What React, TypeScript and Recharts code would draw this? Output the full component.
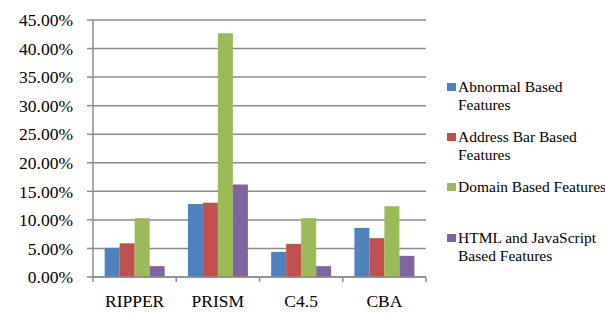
import React from 'react';
import { BarChart, Bar, XAxis, YAxis, CartesianGrid } from 'recharts';

const categories = ['RIPPER', 'PRISM', 'C4.5', 'CBA'];
const abnormal = [5.1, 12.8, 4.4, 8.6];
const addressBar = [5.9, 13.0, 5.8, 6.8];
const domain = [10.3, 42.7, 10.3, 12.4];
const htmlJs = [1.9, 16.2, 1.9, 3.7];
const yTicks = [0, 5, 10, 15, 20, 25, 30, 35, 40, 45];

const seriesNames = [
  'Abnormal Based Features',
  'Address Bar Based Features',
  'Domain Based Features',
  'HTML and JavaScript Based Features',
];
const legendLines = [
  ['Abnormal Based', 'Features'],
  ['Address Bar Based', 'Features'],
  ['Domain Based Features'],
  ['HTML and JavaScript', 'Based Features'],
];
const colors = ['#4F81BD', '#C0504D', '#9BBB59', '#8064A2'];

const data = categories.map((c, i) => ({
  name: c,
  a: abnormal[i],
  b: addressBar[i],
  c: domain[i],
  d: htmlJs[i],
}));

const W = 605;
const H = 313;
const M = { top: 20, right: 179, bottom: 6, left: 0 };
const YW = 93;
const band = (W - M.right - M.left - YW) / categories.length;
const FONT = 'Liberation Serif';

const XTick = (props: any) => {
  const { x, y, payload, index } = props;
  return (
    <g>
      <line x1={x - band / 2} y1={y - 8} x2={x - band / 2} y2={y - 3} stroke="#8c8c8c" strokeWidth={1.5} />
      {index === categories.length - 1 && (
        <line x1={x + band / 2} y1={y - 8} x2={x + band / 2} y2={y - 3} stroke="#8c8c8c" strokeWidth={1.5} />
      )}
      <text x={x} y={y + 22} textAnchor="middle" fontFamily={FONT} fontSize={17.5} fill="#000">
        {payload.value}
      </text>
    </g>
  );
};

const tops = [78, 128, 178, 229];

export default function App() {
  return (
    <div style={{ position: 'absolute', left: 0, top: 0, width: W, height: H, background: '#fff', overflow: 'hidden' }}>
      <BarChart width={W} height={H} data={data} margin={M} barGap={0} barCategoryGap="14%">
        <CartesianGrid vertical={false} stroke="#8c8c8c" strokeWidth={1.5} />
        <XAxis
          dataKey="name"
          height={30}
          axisLine={{ stroke: '#8c8c8c', strokeWidth: 1.5 }}
          tickLine={false}
          tick={<XTick />}
          interval={0}
        />
        <YAxis
          width={YW}
          domain={[0, 45]}
          ticks={yTicks}
          interval={0}
          tickFormatter={(v: number) => v.toFixed(2) + '%'}
          axisLine={{ stroke: '#8c8c8c', strokeWidth: 1.5 }}
          tickLine={{ stroke: '#8c8c8c', strokeWidth: 1.5 }}
          tickSize={6}
          tickMargin={14}
          tick={{ fontFamily: FONT, fontSize: 17.5, fill: '#000' }}
        />
        <Bar dataKey="a" name={seriesNames[0]} fill={colors[0]} isAnimationActive={false} />
        <Bar dataKey="b" name={seriesNames[1]} fill={colors[1]} isAnimationActive={false} />
        <Bar dataKey="c" name={seriesNames[2]} fill={colors[2]} isAnimationActive={false} />
        <Bar dataKey="d" name={seriesNames[3]} fill={colors[3]} isAnimationActive={false} />
      </BarChart>
      {legendLines.map((lines, i) => (
        <div
          key={i}
          style={{
            position: 'absolute',
            left: 447,
            top: tops[i],
            width: 170,
            fontFamily: FONT,
            fontSize: 15.5,
            lineHeight: '18px',
            color: '#000',
          }}
        >
          <span
            style={{
              position: 'absolute',
              left: 0,
              top: 5,
              width: 9,
              height: 8,
              background: colors[i],
            }}
          />
          <div style={{ marginLeft: 11, whiteSpace: 'nowrap' }}>
            {lines.map((l, j) => (
              <div key={j}>{l}</div>
            ))}
          </div>
        </div>
      ))}
    </div>
  );
}
